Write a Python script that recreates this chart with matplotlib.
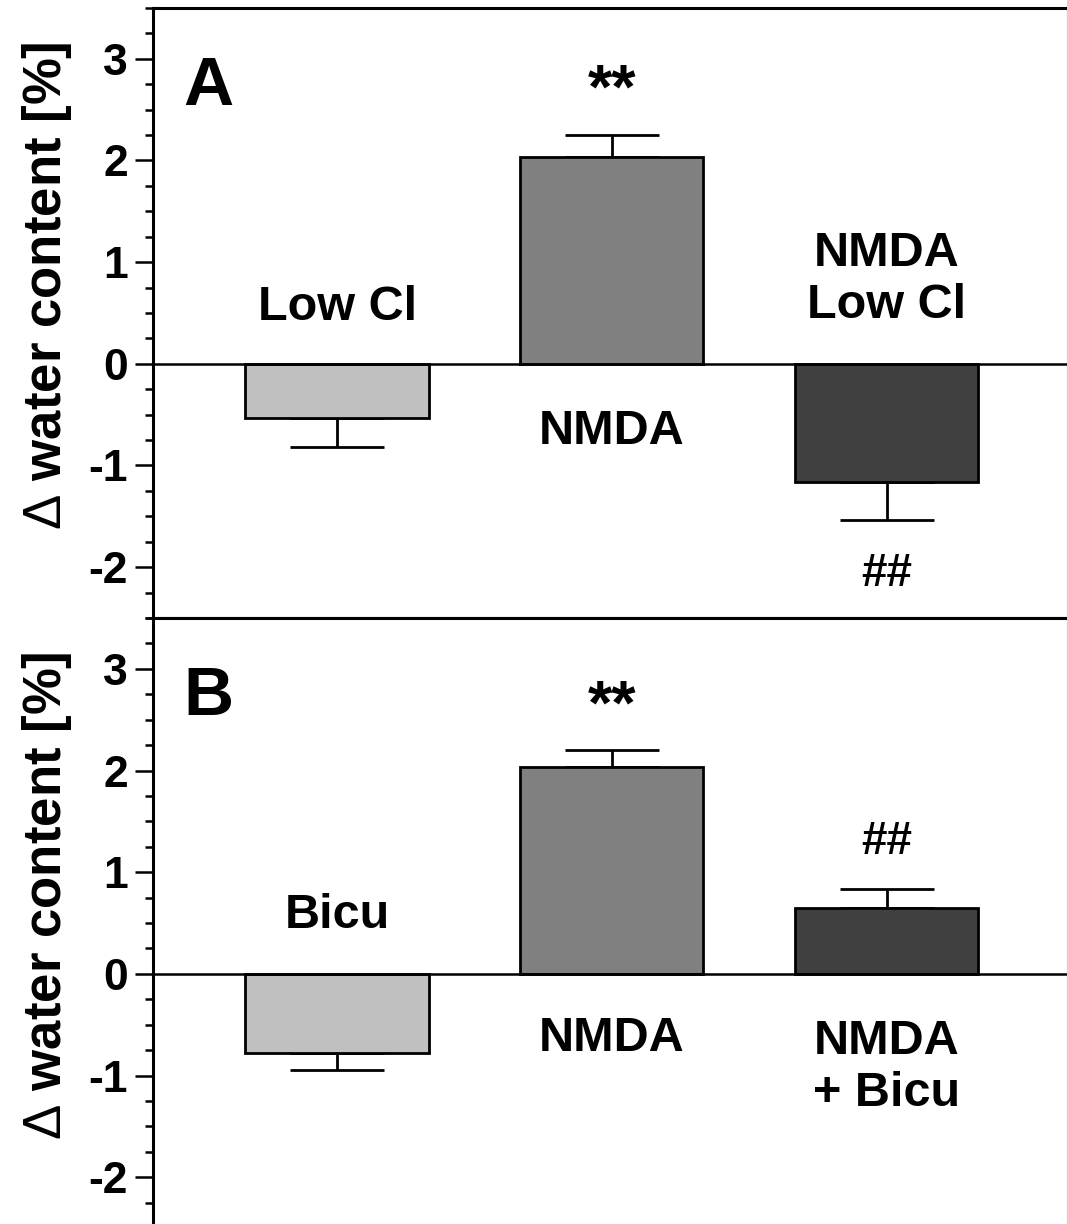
# Water content change, panels A and B (bar chart with one-sided SEM bars)

import numpy as np
import matplotlib
matplotlib.use('Agg')
import matplotlib.pyplot as plt

plt.rcParams['font.family'] = ['Liberation Sans', 'DejaVu Sans']
plt.rcParams['font.weight'] = 'bold'
plt.rcParams['axes.unicode_minus'] = False
plt.rcParams['mathtext.fontset'] = 'custom'
plt.rcParams['mathtext.rm'] = 'Liberation Sans:normal'

# data
x_pos = [1, 2, 3]
colors = ['#c0c0c0', '#808080', '#404040']

a_values = [-0.53, 2.03, -1.16]
a_errors = [0.29, 0.22, 0.38]
a_labels = ['Low Cl', 'NMDA', 'NMDA\nLow Cl']
a_label_y = [0.55, -0.67, 0.83]
a_marks = ['', '**', '##']
a_mark_y = [0, 2.68, -2.07]

b_values = [-0.78, 2.03, 0.65]
b_errors = [0.17, 0.17, 0.18]
b_labels = ['Bicu', 'NMDA', 'NMDA\n+ Bicu']
b_label_y = [0.57, -0.64, -0.92]
b_marks = ['', '**', '##']
b_mark_y = [0, 2.62, 1.30]

y_ticks = [-2, -1, 0, 1, 2, 3]


def draw_panel(ax, values, errors, labels, label_y, marks, mark_y, letter):
    ax.bar(x_pos, values, width=0.667, color=colors, edgecolor='black',
           linewidth=2.0, zorder=2)

    # one-sided error bars pointing away from zero
    lower = [e if v < 0 else 0 for v, e in zip(values, errors)]
    upper = [e if v >= 0 else 0 for v, e in zip(values, errors)]
    ax.errorbar(x_pos, values, yerr=[lower, upper], fmt='none', ecolor='black',
                elinewidth=2.0, capsize=34, capthick=2.0, zorder=1)

    ax.axhline(0, color='black', linewidth=1.8, zorder=3)

    for x, lab, y in zip(x_pos, labels, label_y):
        ax.text(x, y, lab, ha='center', va='center', fontsize=35,
                fontweight='bold', linespacing=1.2)
    for x, m, y in zip(x_pos, marks, mark_y):
        if m:
            ax.text(x, y, m, ha='center', va='center',
                    fontsize=45 if m == '**' else 33, fontweight='bold')

    ax.text(0.53, 2.72, letter, ha='center', va='center', fontsize=50,
            fontweight='bold')

    ax.set_xlim(0.33, 3.66)
    ax.set_ylim(-2.5, 3.5)
    ax.set_xticks([])
    ax.set_yticks(y_ticks)
    ax.set_yticks(np.arange(-2.5, 3.51, 0.25), minor=True)
    ax.tick_params(axis='y', which='major', direction='out', length=13,
                   width=1.8, labelsize=32, pad=5)
    ax.tick_params(axis='y', which='minor', direction='out', length=6,
                   width=1.8)
    for lab in ax.get_yticklabels():
        lab.set_fontweight('bold')
    for sp in ax.spines.values():
        sp.set_linewidth(2.2)
    ax.set_ylabel(r'$\mathrm{\Delta}$ water content [%]', fontsize=38,
                  fontweight='bold')
    ax.yaxis.set_label_coords(-0.086, 0.545)


fig = plt.figure(figsize=(10.67, 12.24), dpi=100)
ax_a = fig.add_axes([0.1434, 0.4951, 0.8575, 0.4984])
ax_b = fig.add_axes([0.1434, -0.0033, 0.8575, 0.4984])

draw_panel(ax_a, a_values, a_errors, a_labels, a_label_y, a_marks, a_mark_y, 'A')
draw_panel(ax_b, b_values, b_errors, b_labels, b_label_y, b_marks, b_mark_y, 'B')

fig.savefig('out.png', dpi=100)
